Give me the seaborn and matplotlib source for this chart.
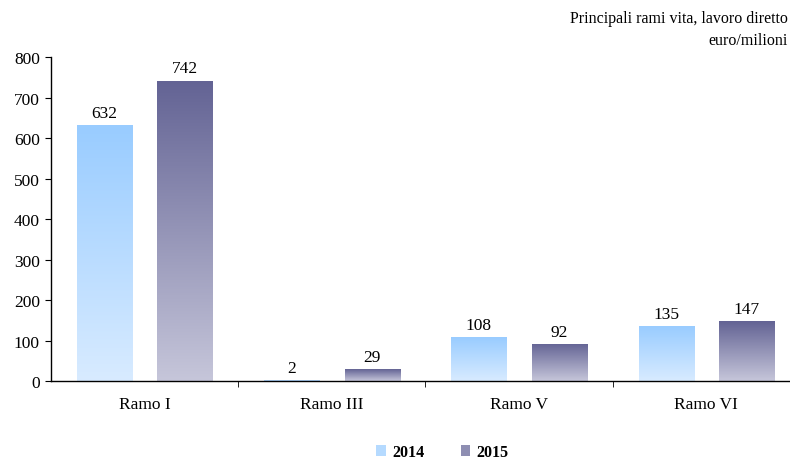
import numpy as np
import pandas as pd
import seaborn as sns
import matplotlib
matplotlib.use('Agg')
import matplotlib.pyplot as plt
from matplotlib.colors import LinearSegmentedColormap
from matplotlib.patches import Patch

# Data
categories = ["Ramo I", "Ramo III", "Ramo V", "Ramo VI"]
years = ["2014", "2015"]
values_2014 = [632, 2, 108, 135]
values_2015 = [742, 29, 92, 147]

# gradient colours (top, bottom) for each year
grad_2014 = ("#99CCFF", "#D8EBFF")
grad_2015 = ("#636394", "#C6C6DA")

df = pd.DataFrame({
    "ramo": categories * 2,
    "anno": [years[0]] * 4 + [years[1]] * 4,
    "valore": values_2014 + values_2015,
})

sns.set_style("white")
plt.rcParams['font.family'] = ['Liberation Serif', 'DejaVu Serif']
plt.rcParams['text.color'] = 'black'
plt.rcParams['xtick.color'] = 'black'
plt.rcParams['ytick.color'] = 'black'

fig = plt.figure(figsize=(7.9, 4.6), dpi=100)
ax = fig.add_axes([0.0646, 0.1696, 0.948, 0.704])

sns.barplot(data=df, x="ramo", y="valore", hue="anno", hue_order=years,
            order=categories, width=0.86, gap=0.316, palette=["#99CCFF", "#666699"],
            legend=False, ax=ax, saturation=1)

ax.set_ylim(0, 800)
ax.set_xlim(-0.5, 3.5)
ax.set_yticks(range(0, 801, 100))

# replace flat fills with vertical gradients
grads = [grad_2014, grad_2015]
for cont, (top, bot) in zip(ax.containers, grads):
    cmap = LinearSegmentedColormap.from_list("g", [bot, top])
    for bar in cont:
        x0, y0 = bar.get_x(), bar.get_y()
        w, h = bar.get_width(), bar.get_height()
        grad = np.linspace(0, 1, 256).reshape(-1, 1)
        im = ax.imshow(grad, cmap=cmap, origin="lower", aspect="auto",
                       extent=[x0, x0 + w, y0, y0 + h], zorder=2)
        im.set_clip_path(bar)
        bar.set_facecolor("none")
        bar.set_edgecolor("none")
        bar.set_linewidth(0)
    ax.bar_label(cont, fmt="%d", padding=3, fontsize=12.5, color="black")

ax.set_aspect("auto")
ax.set_xlim(-0.5, 3.5)
ax.set_ylim(0, 800)

for s in ["top", "right"]:
    ax.spines[s].set_visible(False)
for s in ["left", "bottom"]:
    ax.spines[s].set_color("black")
    ax.spines[s].set_linewidth(1.0)
    ax.spines[s].set_zorder(3)

ax.set_xlabel("")
ax.set_ylabel("")
ax.tick_params(axis="y", left=True, length=4, direction="out", labelsize=12.5, pad=4)
ax.tick_params(axis="x", bottom=False, labelsize=12.5, pad=7)
ax.set_xticks([0.5, 1.5, 2.5], minor=True)
ax.tick_params(axis="x", which="minor", bottom=True, length=4, direction="out")

fig.text(0.997, 0.958, "Principali rami vita, lavoro diretto", ha="right", va="center", fontsize=11.5)
fig.text(0.997, 0.911, "euro/milioni", ha="right", va="center", fontsize=11.5)

handles = [Patch(facecolor="#B5DAFF", edgecolor="none"), Patch(facecolor="#8E8EB2", edgecolor="none")]
fig.legend(handles, years, loc="center", bbox_to_anchor=(0.56, 0.015), ncol=2, frameon=False,
           prop={"weight": "bold", "size": 11.5}, handlelength=0.6, handleheight=0.6,
           columnspacing=2.3, handletextpad=0.4)

fig.savefig("out.png", dpi=100)
